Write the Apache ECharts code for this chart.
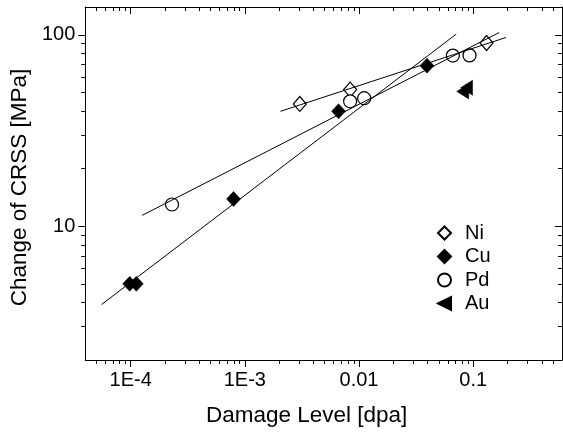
<!DOCTYPE html>
<html><head><meta charset="utf-8">
<script src="https://cdn.jsdelivr.net/npm/echarts@6/dist/echarts.min.js"></script>
<style>html,body{margin:0;padding:0;background:#fff}#c{width:563px;height:432px}</style>
</head><body><div id="c"></div>
<script>
// ---- data ----
const xTickValues = [1e-4, 1e-3, 1e-2, 1e-1];
const xTickLabels = ['1E-4', '1E-3', '0.01', '0.1'];
const yTickValues = [10, 100];
const yTickLabels = ['10', '100'];
const xRange = [4e-5, 0.6];
const yRange = [2, 140];

const niX = [0.00303, 0.00836, 0.131];
const niY = [43.6, 51.8, 90.8];
const cuX = [9.8e-5, 1.12e-4, 7.96e-4, 6.62e-3, 0.0394];
const cuY = [5.0, 5.0, 13.9, 39.9, 69.1];
const pdX = [2.3e-4, 8.36e-3, 0.0111, 0.0664, 0.0929];
const pdY = [13.0, 45.0, 46.7, 78.0, 78.2];
const auX = [0.081, 0.0875];
const auY = [50.7, 53.0];

// fitted lines: end points
const niFitX = [2.05e-3, 0.194];
const niFitY = [39.9, 97];
const cuFitX = [5.56e-5, 0.071];
const cuFitY = [3.9, 101];
const pdFitX = [1.26e-4, 0.169];
const pdFitY = [11.4, 103];

// ---- helpers ----
const L = Math.log10;
function pairs(xs, ys) { return xs.map((x, i) => [L(x), L(ys[i])]); }
function minorLog(lo, hi) {
  const out = [];
  for (let k = Math.floor(L(lo)); k <= Math.ceil(L(hi)); k++) {
    for (let m = 2; m <= 9; m++) {
      const v = m * Math.pow(10, k);
      if (v > lo * 1.0001 && v < hi * 0.9999) out.push(L(v));
    }
  }
  return out;
}
function labelOf(values, labels) {
  return function (v) {
    for (let i = 0; i < values.length; i++) if (Math.abs(L(values[i]) - v) < 1e-6) return labels[i];
    return '';
  };
}
const FONT = 'Liberation Sans, Arial, sans-serif';
const BLACK = '#000';
const xMajor = xTickValues.map(L), yMajor = yTickValues.map(L);
const xMinor = minorLog(xRange[0], xRange[1]), yMinor = minorLog(yRange[0], yRange[1]);

function axis(dim, pos, major, inside, main) {
  const o = {
    type: 'value', position: pos,
    min: L((dim === 'x' ? xRange : yRange)[0]), max: L((dim === 'x' ? xRange : yRange)[1]),
    axisLine: { show: major, onZero: false, lineStyle: { color: BLACK, width: 1 } },
    axisTick: { show: true, inside: inside, length: major ? 7 : 4,
      customValues: dim === 'x' ? (major ? xMajor : xMinor) : (major ? yMajor : yMinor),
      lineStyle: { color: BLACK, width: 1 } },
    axisLabel: { show: false },
    splitLine: { show: false }
  };
  if (main) {
    o.axisLabel = {
      show: true, customValues: dim === 'x' ? xMajor : yMajor,
      formatter: dim === 'x' ? labelOf(xTickValues, xTickLabels) : labelOf(yTickValues, yTickLabels),
      color: BLACK, fontFamily: FONT, fontSize: 20, margin: 10
    };
    o.name = dim === 'x' ? 'Damage Level [dpa]' : 'Change of CRSS [MPa]';
    o.nameLocation = 'middle';
    o.nameGap = dim === 'x' ? 44 : 54;
    o.nameTextStyle = { color: BLACK, fontFamily: FONT, fontSize: 22.5,
      padding: dim === 'x' ? [0, 34, 0, 0] : [0, 8, 0, 0] };
  }
  return o;
}

const openStyle = { color: '#fff', borderColor: BLACK, borderWidth: 1.2, opacity: 1 };
const fillStyle = { color: BLACK, borderColor: BLACK, borderWidth: 0.5, opacity: 1 };
const leftTri = 'path://M0,5 L10,0 L10,10 Z';

function fitLine(xs, ys) {
  return { type: 'line', data: pairs(xs, ys), symbol: 'none', showSymbol: false, silent: true, z: 5,
    lineStyle: { color: BLACK, width: 1 }, animation: false };
}

const chart = echarts.init(document.getElementById('c'), null, { renderer: 'canvas' });
chart.setOption({
  animation: false,
  backgroundColor: '#fff',
  grid: { left: 83, right: 1, top: 7, bottom: 72, containLabel: false },
  xAxis: [
    axis('x', 'bottom', true, false, true),
    axis('x', 'bottom', false, false, false),
    axis('x', 'top', true, true, false),
    axis('x', 'top', false, true, false)
  ],
  yAxis: [
    axis('y', 'left', true, false, true),
    axis('y', 'left', false, false, false),
    axis('y', 'right', true, true, false),
    axis('y', 'right', false, true, false)
  ],
  legend: {
    data: ['Ni', 'Cu', 'Pd', 'Au'], orient: 'vertical', left: 432, top: 218,
    itemWidth: 13, itemHeight: 13, itemGap: 3.5, selectedMode: false,
    textStyle: { color: BLACK, fontFamily: FONT, fontSize: 20, padding: [0, 0, 0, 9] }
  },
  series: [
    { name: 'Ni', type: 'scatter', data: pairs(niX, niY), symbol: 'diamond', symbolSize: [13, 15], itemStyle: openStyle, z: 3 },
    { name: 'Cu', type: 'scatter', data: pairs(cuX, cuY), symbol: 'diamond', symbolSize: [14, 15], itemStyle: fillStyle, z: 3 },
    { name: 'Pd', type: 'scatter', data: pairs(pdX, pdY), symbol: 'circle', symbolSize: 13, itemStyle: openStyle, z: 3 },
    { name: 'Au', type: 'scatter', data: pairs(auX, auY), symbol: leftTri, symbolSize: [12, 15], itemStyle: fillStyle, z: 3 },
    fitLine(niFitX, niFitY),
    fitLine(cuFitX, cuFitY),
    fitLine(pdFitX, pdFitY)
  ]
});
</script>
</body></html>
